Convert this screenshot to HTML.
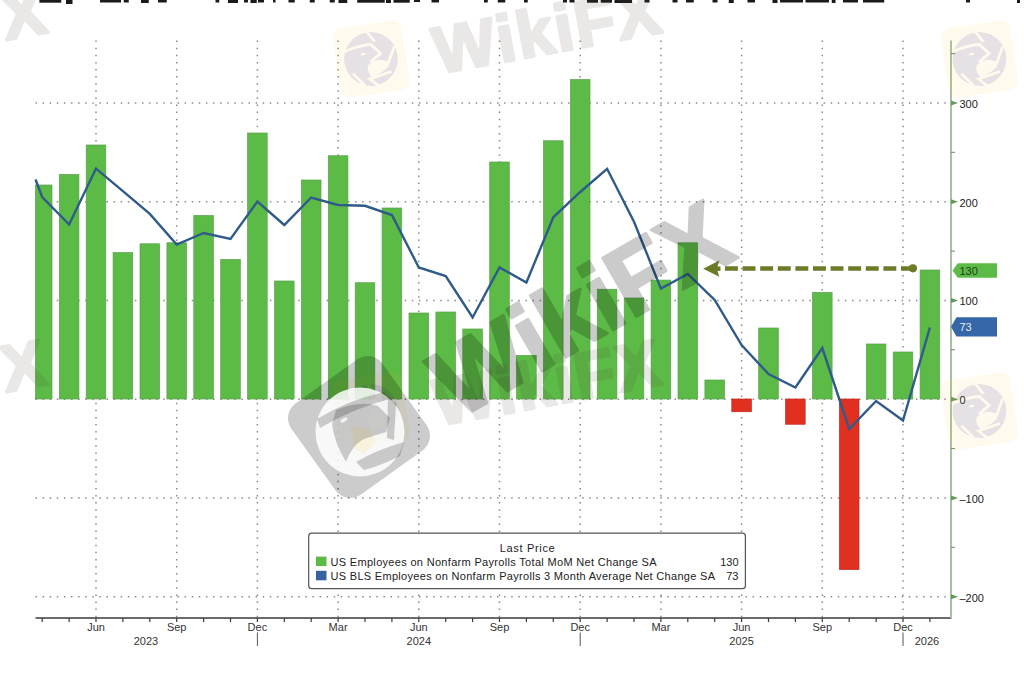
<!DOCTYPE html>
<html><head><meta charset="utf-8"><style>
html,body{margin:0;padding:0;background:#fff;}
body{width:1024px;height:680px;overflow:hidden;position:relative;font-family:"Liberation Sans",sans-serif;}
svg{position:absolute;left:0;top:0;}
</style></head><body>
<svg width="1024" height="680" viewBox="0 0 1024 680">
<defs><mask id="emask" maskUnits="userSpaceOnUse" x="-30" y="-30" width="60" height="60"><circle r="27" fill="#fff"/><g stroke="#000" stroke-width="2.8" fill="none"><path d="M0,-27.5 L6.2,-16.5"/><path d="M-28,-10.5 Q-12,-15 2,-14.4 L10.3,-4.1 L-1,3"/><path d="M25,-9.3 L14.4,10.3"/><path d="M18.5,15.4 L-4.1,19.6 L4.1,28"/><path d="M-20,12 Q-14,20 -10,25"/></g><path d="M-4,6 Q8,-2 17,6 Q16,14 -2,18 Q-6,12 -4,6Z" fill="#000"/><ellipse cx="-7" cy="-6" rx="2.6" ry="1.2" fill="#000"/></mask></defs>
<rect width="1024" height="680" fill="#fff"/>
<g stroke="#8a8a8a" stroke-width="1.5" stroke-dasharray="1.5 5.6" fill="none"><line x1="35.5" y1="102.9" x2="949.0" y2="102.9"/><line x1="35.5" y1="201.7" x2="949.0" y2="201.7"/><line x1="35.5" y1="300.4" x2="949.0" y2="300.4"/><line x1="35.5" y1="399.2" x2="949.0" y2="399.2"/><line x1="35.5" y1="497.9" x2="949.0" y2="497.9"/><line x1="35.5" y1="596.7" x2="949.0" y2="596.7"/><line x1="96.0" y1="40.6" x2="96.0" y2="617.0"/><line x1="176.7" y1="40.6" x2="176.7" y2="617.0"/><line x1="257.4" y1="40.6" x2="257.4" y2="617.0"/><line x1="338.1" y1="40.6" x2="338.1" y2="617.0"/><line x1="418.8" y1="40.6" x2="418.8" y2="617.0"/><line x1="499.5" y1="40.6" x2="499.5" y2="617.0"/><line x1="580.2" y1="40.6" x2="580.2" y2="617.0"/><line x1="660.9" y1="40.6" x2="660.9" y2="617.0"/><line x1="741.6" y1="40.6" x2="741.6" y2="617.0"/><line x1="822.3" y1="40.6" x2="822.3" y2="617.0"/><line x1="903.0" y1="40.6" x2="903.0" y2="617.0"/></g>
<g fill="#5cbb46" stroke="#5aa04c" stroke-width="0.7"><rect x="35.50" y="185.00" width="16.50" height="214.00"/><rect x="59.30" y="174.50" width="19.60" height="224.50"/><rect x="86.20" y="145.00" width="19.60" height="254.00"/><rect x="113.10" y="252.60" width="19.60" height="146.40"/><rect x="140.00" y="243.80" width="19.60" height="155.20"/><rect x="166.90" y="242.80" width="19.60" height="156.20"/><rect x="193.80" y="215.50" width="19.60" height="183.50"/><rect x="220.70" y="259.50" width="19.60" height="139.50"/><rect x="247.60" y="133.00" width="19.60" height="266.00"/><rect x="274.50" y="281.00" width="19.60" height="118.00"/><rect x="301.40" y="180.00" width="19.60" height="219.00"/><rect x="328.30" y="155.75" width="19.60" height="243.25"/><rect x="355.20" y="282.75" width="19.60" height="116.25"/><rect x="382.10" y="208.00" width="19.60" height="191.00"/><rect x="409.00" y="313.00" width="19.60" height="86.00"/><rect x="435.90" y="312.00" width="19.60" height="87.00"/><rect x="462.80" y="329.00" width="19.60" height="70.00"/><rect x="489.70" y="162.00" width="19.60" height="237.00"/><rect x="516.60" y="355.50" width="19.60" height="43.50"/><rect x="543.50" y="140.75" width="19.60" height="258.25"/><rect x="570.40" y="79.50" width="19.60" height="319.50"/><rect x="597.30" y="289.25" width="19.60" height="109.75"/><rect x="624.20" y="298.00" width="19.60" height="101.00"/><rect x="651.10" y="280.10" width="19.60" height="118.90"/><rect x="678.00" y="242.80" width="19.60" height="156.20"/><rect x="704.90" y="380.00" width="19.60" height="19.00"/><rect x="758.70" y="328.00" width="19.60" height="71.00"/><rect x="812.50" y="292.50" width="19.60" height="106.50"/><rect x="866.30" y="344.00" width="19.60" height="55.00"/><rect x="893.20" y="352.00" width="19.60" height="47.00"/><rect x="920.10" y="270.00" width="19.60" height="129.00"/></g>
<g fill="#e1301f" stroke="#c42c1e" stroke-width="0.7"><rect x="731.80" y="399.00" width="19.60" height="12.75"/><rect x="785.60" y="399.00" width="19.60" height="25.25"/><rect x="839.40" y="399.00" width="19.60" height="170.60"/></g>
<polyline points="35.5,179.5 42.2,197.0 69.1,224.5 96.0,168.6 122.9,191.2 149.8,213.9 176.7,244.6 203.6,233.0 230.5,239.0 257.4,201.5 284.3,225.0 311.2,197.5 338.1,205.0 365.0,205.8 391.9,215.0 418.8,267.5 445.7,276.0 472.6,317.5 499.5,267.5 526.4,282.5 553.3,217.3 580.2,192.0 607.1,168.8 634.0,221.7 660.9,288.6 687.8,274.0 714.7,300.0 741.6,345.0 768.5,374.0 795.4,387.5 822.3,348.0 849.2,429.0 876.1,401.0 903.0,420.5 929.9,327.5" fill="none" stroke="#2f5b8a" stroke-width="2.4" stroke-linejoin="miter"/>
<line x1="35.5" y1="618.0" x2="951.5" y2="618.0" stroke="#3a3a3a" stroke-width="1.3"/>
<g stroke="#3a3a3a" stroke-width="1.2"><line x1="42.2" y1="618.0" x2="42.2" y2="622.0"/><line x1="69.1" y1="618.0" x2="69.1" y2="622.0"/><line x1="96.0" y1="618.0" x2="96.0" y2="622.0"/><line x1="122.9" y1="618.0" x2="122.9" y2="622.0"/><line x1="149.8" y1="618.0" x2="149.8" y2="622.0"/><line x1="176.7" y1="618.0" x2="176.7" y2="622.0"/><line x1="203.6" y1="618.0" x2="203.6" y2="622.0"/><line x1="230.5" y1="618.0" x2="230.5" y2="622.0"/><line x1="257.4" y1="618.0" x2="257.4" y2="622.0"/><line x1="284.3" y1="618.0" x2="284.3" y2="622.0"/><line x1="311.2" y1="618.0" x2="311.2" y2="622.0"/><line x1="338.1" y1="618.0" x2="338.1" y2="622.0"/><line x1="365.0" y1="618.0" x2="365.0" y2="622.0"/><line x1="391.9" y1="618.0" x2="391.9" y2="622.0"/><line x1="418.8" y1="618.0" x2="418.8" y2="622.0"/><line x1="445.7" y1="618.0" x2="445.7" y2="622.0"/><line x1="472.6" y1="618.0" x2="472.6" y2="622.0"/><line x1="499.5" y1="618.0" x2="499.5" y2="622.0"/><line x1="526.4" y1="618.0" x2="526.4" y2="622.0"/><line x1="553.3" y1="618.0" x2="553.3" y2="622.0"/><line x1="580.2" y1="618.0" x2="580.2" y2="622.0"/><line x1="607.1" y1="618.0" x2="607.1" y2="622.0"/><line x1="634.0" y1="618.0" x2="634.0" y2="622.0"/><line x1="660.9" y1="618.0" x2="660.9" y2="622.0"/><line x1="687.8" y1="618.0" x2="687.8" y2="622.0"/><line x1="714.7" y1="618.0" x2="714.7" y2="622.0"/><line x1="741.6" y1="618.0" x2="741.6" y2="622.0"/><line x1="768.5" y1="618.0" x2="768.5" y2="622.0"/><line x1="795.4" y1="618.0" x2="795.4" y2="622.0"/><line x1="822.3" y1="618.0" x2="822.3" y2="622.0"/><line x1="849.2" y1="618.0" x2="849.2" y2="622.0"/><line x1="876.1" y1="618.0" x2="876.1" y2="622.0"/><line x1="903.0" y1="618.0" x2="903.0" y2="622.0"/><line x1="929.9" y1="618.0" x2="929.9" y2="622.0"/></g>
<line x1="951.0" y1="40.6" x2="951.0" y2="618.0" stroke="#a9c0a2" stroke-width="2"/>
<g stroke="#6a8a60" stroke-width="1"><line x1="951.0" y1="53.6" x2="955.0" y2="53.6"/><line x1="951.0" y1="152.3" x2="955.0" y2="152.3"/><line x1="951.0" y1="251.1" x2="955.0" y2="251.1"/><line x1="951.0" y1="349.8" x2="955.0" y2="349.8"/><line x1="951.0" y1="448.6" x2="955.0" y2="448.6"/><line x1="951.0" y1="547.3" x2="955.0" y2="547.3"/></g>
<g fill="#5f9a58"><path d="M951.0,100.4 L958.0,102.9 L951.0,105.4Z"/><path d="M951.0,199.2 L958.0,201.7 L951.0,204.2Z"/><path d="M951.0,297.9 L958.0,300.4 L951.0,302.9Z"/><path d="M951.0,396.7 L958.0,399.2 L951.0,401.7Z"/><path d="M951.0,495.4 L958.0,497.9 L951.0,500.4Z"/><path d="M951.0,594.2 L958.0,596.7 L951.0,599.2Z"/></g>
<g font-family="Liberation Sans, sans-serif" font-size="11" fill="#222"><text x="959.5" y="107.7">300</text><text x="959.5" y="206.5">200</text><text x="959.5" y="305.2">100</text><text x="959.5" y="404.0">0</text><text x="959.5" y="502.8">–100</text><text x="959.5" y="601.5">–200</text></g>
<g font-family="Liberation Sans, sans-serif" font-size="11" fill="#333" text-anchor="middle"><text x="96.0" y="631">Jun</text><text x="176.7" y="631">Sep</text><text x="257.4" y="631">Dec</text><text x="338.1" y="631">Mar</text><text x="418.8" y="631">Jun</text><text x="499.5" y="631">Sep</text><text x="580.2" y="631">Dec</text><text x="660.9" y="631">Mar</text><text x="741.6" y="631">Jun</text><text x="822.3" y="631">Sep</text><text x="903.0" y="631">Dec</text><text x="146" y="645">2023</text><text x="418.8" y="645">2024</text><text x="741.6" y="645">2025</text><text x="927" y="645">2026</text></g>
<g stroke="#555" stroke-width="1"><line x1="257.4" y1="632.5" x2="257.4" y2="646"/><line x1="580.2" y1="632.5" x2="580.2" y2="646"/><line x1="903.0" y1="632.5" x2="903.0" y2="646"/></g>
<rect x="308.7" y="533.2" width="436.7" height="55.5" rx="3" ry="3" fill="#fff" stroke="#555" stroke-width="1.2"/>
<g font-family="Liberation Sans, sans-serif" font-size="11" fill="#222"><text x="499.7" y="551.5" textLength="55" lengthAdjust="spacing">Last Price</text><text x="330.5" y="566" textLength="326" lengthAdjust="spacing">US Employees on Nonfarm Payrolls Total MoM Net Change SA</text><text x="330.5" y="580" textLength="384.5" lengthAdjust="spacing">US BLS Employees on Nonfarm Payrolls 3 Month Average Net Change SA</text><text x="738.5" y="566" text-anchor="end">130</text><text x="738.5" y="580" text-anchor="end">73</text></g>
<rect x="316" y="556.6" width="10.5" height="9.5" fill="#5cbb46"/>
<rect x="316" y="570.8" width="10.5" height="9.5" fill="#3563a0"/>
<line x1="725" y1="268.5" x2="912" y2="268.5" stroke="#6b7b28" stroke-width="4.4" stroke-dasharray="12.9 4.7"/>
<path d="M703.2,268.7 L719.3,260.4 L716.8,268.7 L719.3,276.8 Z" fill="#6b7b28"/><rect x="715" y="266.5" width="5.5" height="4.4" fill="#6b7b28"/>
<circle cx="912.9" cy="268.3" r="4.1" fill="#6b7b28"/>
<path d="M952.5,270.4 L957.8,263.2 L997,263.2 L997,277.8 L957.8,277.8 Z" fill="#5cbb46"/>
<text x="959.5" y="274.5" font-family="Liberation Sans, sans-serif" font-size="11" fill="#1f3d1a">130</text>
<path d="M951,326.8 L956.5,317.3 L997,317.3 L997,336.5 L956.5,336.5 Z" fill="#3466a8"/>
<text x="959.5" y="331" font-family="Liberation Sans, sans-serif" font-size="11" fill="#e8eef8">73</text>
<g fill="#1a1a1a"><rect x="39.4" y="0" width="21.85" height="2.7"/><rect x="66" y="0" width="6.50" height="4.0"/><rect x="100" y="0" width="21.00" height="2.5"/><rect x="123.75" y="0" width="5.00" height="2.5"/><rect x="141" y="0" width="7.75" height="3.0"/><rect x="158" y="0" width="8.75" height="2.5"/><rect x="215.5" y="0" width="3.75" height="2.5"/><rect x="228" y="0" width="10.00" height="3.0"/><rect x="244" y="0" width="4.00" height="2.5"/><rect x="250.5" y="0" width="6.25" height="3.0"/><rect x="258" y="0" width="6.00" height="2.5"/><rect x="273" y="0" width="2.50" height="2.5"/><rect x="288.5" y="0" width="6.25" height="2.5"/><rect x="309.75" y="0" width="5.00" height="2.5"/><rect x="329.75" y="0" width="5.00" height="2.5"/><rect x="338.5" y="0" width="8.75" height="3.0"/><rect x="357.25" y="0" width="27.50" height="2.7"/><rect x="386" y="0" width="5.00" height="3.0"/><rect x="393.5" y="0" width="16.25" height="2.7"/><rect x="414" y="0" width="6.00" height="2.0"/><rect x="431.5" y="0" width="7.50" height="2.5"/><rect x="484" y="0" width="3.75" height="2.5"/><rect x="497.75" y="0" width="7.50" height="2.5"/><rect x="524" y="0" width="3.75" height="2.5"/><rect x="563" y="0" width="4.00" height="2.5"/><rect x="569.5" y="0" width="5.00" height="2.5"/><rect x="587" y="0" width="11.00" height="2.7"/><rect x="600.75" y="0" width="11.25" height="2.7"/><rect x="614.5" y="0" width="17.50" height="3.0"/><rect x="644.5" y="0" width="5.00" height="2.5"/><rect x="672.5" y="0" width="5.00" height="2.5"/><rect x="686" y="0" width="7.75" height="2.5"/><rect x="712.5" y="0" width="5.00" height="2.5"/><rect x="728.75" y="0" width="5.00" height="3.0"/><rect x="747.5" y="0" width="7.50" height="2.5"/><rect x="772.5" y="0" width="5.00" height="3.0"/><rect x="780" y="0" width="18.00" height="2.5"/><rect x="798" y="0" width="5.00" height="2.5"/><rect x="805.5" y="0" width="23.50" height="2.5"/><rect x="831.75" y="0" width="3.75" height="3.0"/><rect x="843" y="0" width="15.00" height="2.5"/><rect x="863" y="0" width="21.25" height="2.5"/><rect x="966" y="0" width="4.00" height="2.5"/><rect x="1017" y="0" width="3.00" height="3.0"/></g>
<g transform="translate(-243.5,59) rotate(-8.5)"><rect x="-35" y="-35" width="70" height="70" rx="9" fill="#f2bc2a" fill-opacity="0.08"/><g><circle r="27" fill="#3020a0" fill-opacity="0.115" mask="url(#emask)"/></g></g>
<g opacity="0.12"><text transform="translate(-176.5,74) rotate(-10.5)" font-family="Liberation Sans, sans-serif" font-weight="bold" font-size="66" letter-spacing="2" fill="#5a4040" stroke="#5a4040" stroke-width="3" stroke-linejoin="round">WikiFX</text></g>
<g transform="translate(-243.5,411) rotate(-8.5)"><rect x="-35" y="-35" width="70" height="70" rx="9" fill="#f2bc2a" fill-opacity="0.08"/><g><circle r="27" fill="#3020a0" fill-opacity="0.115" mask="url(#emask)"/></g></g>
<g opacity="0.12"><text transform="translate(-176.5,426) rotate(-10.5)" font-family="Liberation Sans, sans-serif" font-weight="bold" font-size="66" letter-spacing="2" fill="#5a4040" stroke="#5a4040" stroke-width="3" stroke-linejoin="round">WikiFX</text></g>
<g transform="translate(371,59) rotate(-8.5)"><rect x="-35" y="-35" width="70" height="70" rx="9" fill="#f2bc2a" fill-opacity="0.08"/><g><circle r="27" fill="#3020a0" fill-opacity="0.115" mask="url(#emask)"/></g></g>
<g opacity="0.12"><text transform="translate(438,74) rotate(-10.5)" font-family="Liberation Sans, sans-serif" font-weight="bold" font-size="66" letter-spacing="2" fill="#5a4040" stroke="#5a4040" stroke-width="3" stroke-linejoin="round">WikiFX</text></g>
<g transform="translate(371,411) rotate(-8.5)"><rect x="-35" y="-35" width="70" height="70" rx="9" fill="#f2bc2a" fill-opacity="0.08"/><g><circle r="27" fill="#3020a0" fill-opacity="0.115" mask="url(#emask)"/></g></g>
<g opacity="0.12"><text transform="translate(438,426) rotate(-10.5)" font-family="Liberation Sans, sans-serif" font-weight="bold" font-size="66" letter-spacing="2" fill="#5a4040" stroke="#5a4040" stroke-width="3" stroke-linejoin="round">WikiFX</text></g>
<g transform="translate(979.5,59) rotate(-8.5)"><rect x="-35" y="-35" width="70" height="70" rx="9" fill="#f2bc2a" fill-opacity="0.08"/><g><circle r="27" fill="#3020a0" fill-opacity="0.115" mask="url(#emask)"/></g></g>
<g opacity="0.12"><text transform="translate(1046.5,74) rotate(-10.5)" font-family="Liberation Sans, sans-serif" font-weight="bold" font-size="66" letter-spacing="2" fill="#5a4040" stroke="#5a4040" stroke-width="3" stroke-linejoin="round">WikiFX</text></g>
<g transform="translate(979.5,411) rotate(-8.5)"><rect x="-35" y="-35" width="70" height="70" rx="9" fill="#f2bc2a" fill-opacity="0.08"/><g><circle r="27" fill="#3020a0" fill-opacity="0.115" mask="url(#emask)"/></g></g>
<g opacity="0.12"><text transform="translate(1046.5,426) rotate(-10.5)" font-family="Liberation Sans, sans-serif" font-weight="bold" font-size="66" letter-spacing="2" fill="#5a4040" stroke="#5a4040" stroke-width="3" stroke-linejoin="round">WikiFX</text></g>
<g transform="translate(359,427) rotate(-35.6)"><rect x="-56" y="-56" width="112" height="112" rx="18" fill="#000" fill-opacity="0.2"/></g><g transform="translate(360,432)"><circle r="44.5" fill="#fff" fill-opacity="0.85"/><path d="M-8,-6 L10,-3 L16,10 L4,22 L-6,16 Z" fill="#faeabf" fill-opacity="0.45"/><g fill="#000" fill-opacity="0.19"><path d="M-43,-13 Q-12,-32 24,-40 L30,-33 Q-6,-24 -40,-4 Z"/><path d="M-24,-22 Q0,-32 18,-26 L30,-14 L26,0 Q12,4 2,8 Q-8,14 -14,30 Q-26,10 -28,-8 Z"/><path d="M-4,30 Q16,18 44,10 L40,24 Q20,34 4,38 Z"/><path d="M28,-36 L36,-28 L34,8 L27,6 Z"/></g><ellipse cx="-16" cy="-12" rx="4" ry="1.6" transform="rotate(-30 -16 -12)" fill="#fff" fill-opacity="0.8"/></g>
<g opacity="0.2"><text transform="translate(457,420) rotate(-30)" font-family="Liberation Sans, sans-serif" font-weight="bold" font-size="98" fill="#000" stroke="#000" stroke-width="3" stroke-linejoin="round">WikiFX</text></g>
</svg>
</body></html>
